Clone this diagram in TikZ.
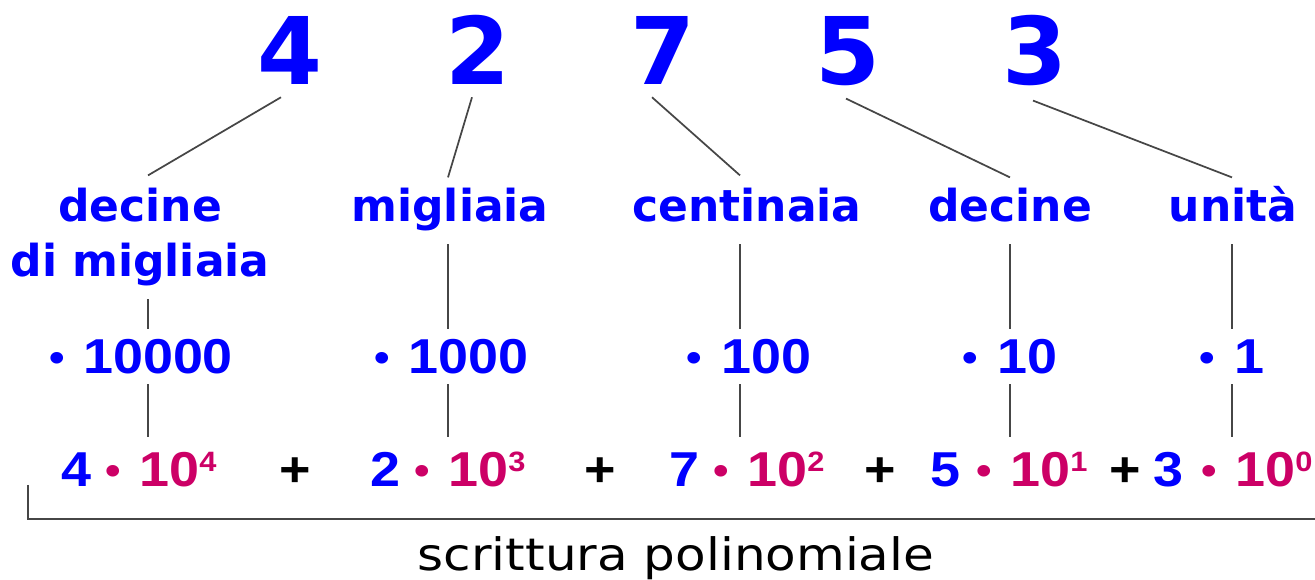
\documentclass[tikz,border=0pt]{standalone}
\usepackage{graphicx}
\usepackage{fontspec}
\setmainfont{DejaVu Sans}
\newfontfamily\numfont[FakeStretch=1.1]{Liberation Sans}
\newfontfamily\footfont[FakeStretch=1.12]{DejaVu Sans}
\usetikzlibrary{calc}
\definecolor{myblue}{RGB}{0,0,255}
\definecolor{mycrim}{RGB}{204,0,102}
\definecolor{myline}{RGB}{70,70,70}
\newcommand\mysup[1]{\raisebox{11.25pt}{\fontsize{21}{21}\selectfont #1}}
\newcommand\mydot{\raisebox{1.5pt}{\scalebox{0.82}{\textbullet}}\hspace{0.38em}}
\begin{document}
\begin{tikzpicture}[x=0.75pt,y=-0.75pt,
 big/.style={font=\fontsize{70}{70}\selectfont\bfseries, text=myblue, inner sep=0pt, anchor=base},
 lab/.style={font=\fontsize{33}{33}\selectfont\bfseries, text=myblue, inner sep=0pt, anchor=base, text height=25pt, text depth=7.5pt},
 val/.style={font=\numfont\fontsize{36.75}{36.75}\selectfont\bfseries, text=myblue, inner sep=0pt, anchor=base, text height=26.25pt, text depth=0pt},
 pw/.style={font=\numfont\fontsize{36.75}{36.75}\selectfont\bfseries, text=mycrim, inner sep=0pt, anchor=base west, text height=26.25pt, text depth=0pt},
 plus/.style={font=\numfont\fontsize{36.75}{36.75}\selectfont\bfseries, text=black, inner sep=0pt, anchor=base},
 foot/.style={font=\footfont\fontsize{33.5}{33.5}\selectfont, text=black, inner sep=0pt, anchor=base},
 conn/.style={draw=myline, line width=1.3pt},
 uconn/.style={conn, shorten <=9pt, shorten >=7.5pt},
 lconn/.style={conn, shorten <=7.5pt, shorten >=11.25pt},
]
\useasboundingbox (0,0) rectangle (1315,580);
% top digits
\node[big] (d1) at (290,85) {4};
\node[big] (d2) at (478,85) {2};
\node[big] (d3) at (663,85) {7};
\node[big] (d4) at (848,85) {5};
\node[big] (d5) at (1035,85) {3};
% labels
\node[lab] (l1a) at (140,222) {decine};
\node[lab] (l1b) at (140,277) {di migliaia};
\node[lab] (l2) at (450,222) {migliaia};
\node[lab] (l3) at (747,222) {centinaia};
\node[lab] (l4) at (1010,222) {decine};
\node[lab] (l5) at (1233,222) {unità};
% columns
\coordinate (c1) at (148,0);
\coordinate (c2) at (448,0);
\coordinate (c3) at (740,0);
\coordinate (c4) at (1010,0);
\coordinate (c5) at (1232,0);
% values
\node[val] (v1) at (141,374) {\mydot 10000};
\node[val] (v2) at (451,374) {\mydot 1000};
\node[val] (v3) at (749,374) {\mydot 100};
\node[val] (v4) at (1010,374) {\mydot 10};
\node[val] (v5) at (1232,374) {\mydot 1};
% bottom row
\node[val] (n1) at (76,487) {4};
\node[pw] (p1) at (105,487) {\mydot 10\mysup{4}};
\node[plus] (s1) at (295,487) {+};
\node[val] (n2) at (385,487) {2};
\node[pw] (p2) at (414,487) {\mydot 10\mysup{3}};
\node[plus] (s2) at (600,487) {+};
\node[val] (n3) at (684,487) {7};
\node[pw] (p3) at (713,487) {\mydot 10\mysup{2}};
\node[plus] (s3) at (880,487) {+};
\node[val] (n4) at (945,487) {5};
\node[pw] (p4) at (976,487) {\mydot 10\mysup{1}};
\node[plus] (s4) at (1125,487) {+};
\node[val] (n5) at (1168,487) {3};
\node[pw] (p5) at (1201,487) {\mydot 10\mysup{0}};
% footer
\node[foot] (ft) at (676,571) {scrittura polinomiale};
\coordinate (bt) at (28,485);
\coordinate (bc) at (28,519);
\coordinate (br) at (1315,519);
\draw[conn] (bt) -- (bc) -- (br);
% diagonals
\draw[conn] ($(d1.south)+(-9,12)$) -- ($(l1a.north)+(8,-13)$);
\draw[conn] ($(d2.south)+(-6,12)$) -- ($(l2.north)+(-2,-11)$);
\draw[conn] ($(d3.south)+(-11,12)$) -- ($(l3.north)+(-7,-13)$);
\draw[conn] ($(d4.south)+(-2,12)$) -- ($(l4.north)+(0,-11)$);
\draw[conn] ($(d5.south)+(-2,14)$) -- ($(l5.north)+(-1,-11)$);
% verticals label -> value
\draw[uconn] (l1b.south -| c1) -- (v1.north -| c1);
\draw[uconn] (l2.south -| c2) -- (v2.north -| c2);
\draw[uconn] (l3.south -| c3) -- (v3.north -| c3);
\draw[uconn] (l4.south -| c4) -- (v4.north -| c4);
\draw[uconn] (l5.south -| c5) -- (v5.north -| c5);
% verticals value -> power
\draw[lconn] (v1.south -| c1) -- (p1.north -| c1);
\draw[lconn] (v2.south -| c2) -- (p2.north -| c2);
\draw[lconn] (v3.south -| c3) -- (p3.north -| c3);
\draw[lconn] (v4.south -| c4) -- (p4.north -| c4);
\draw[lconn] (v5.south -| c5) -- (p5.north -| c5);
\end{tikzpicture}
\end{document}
